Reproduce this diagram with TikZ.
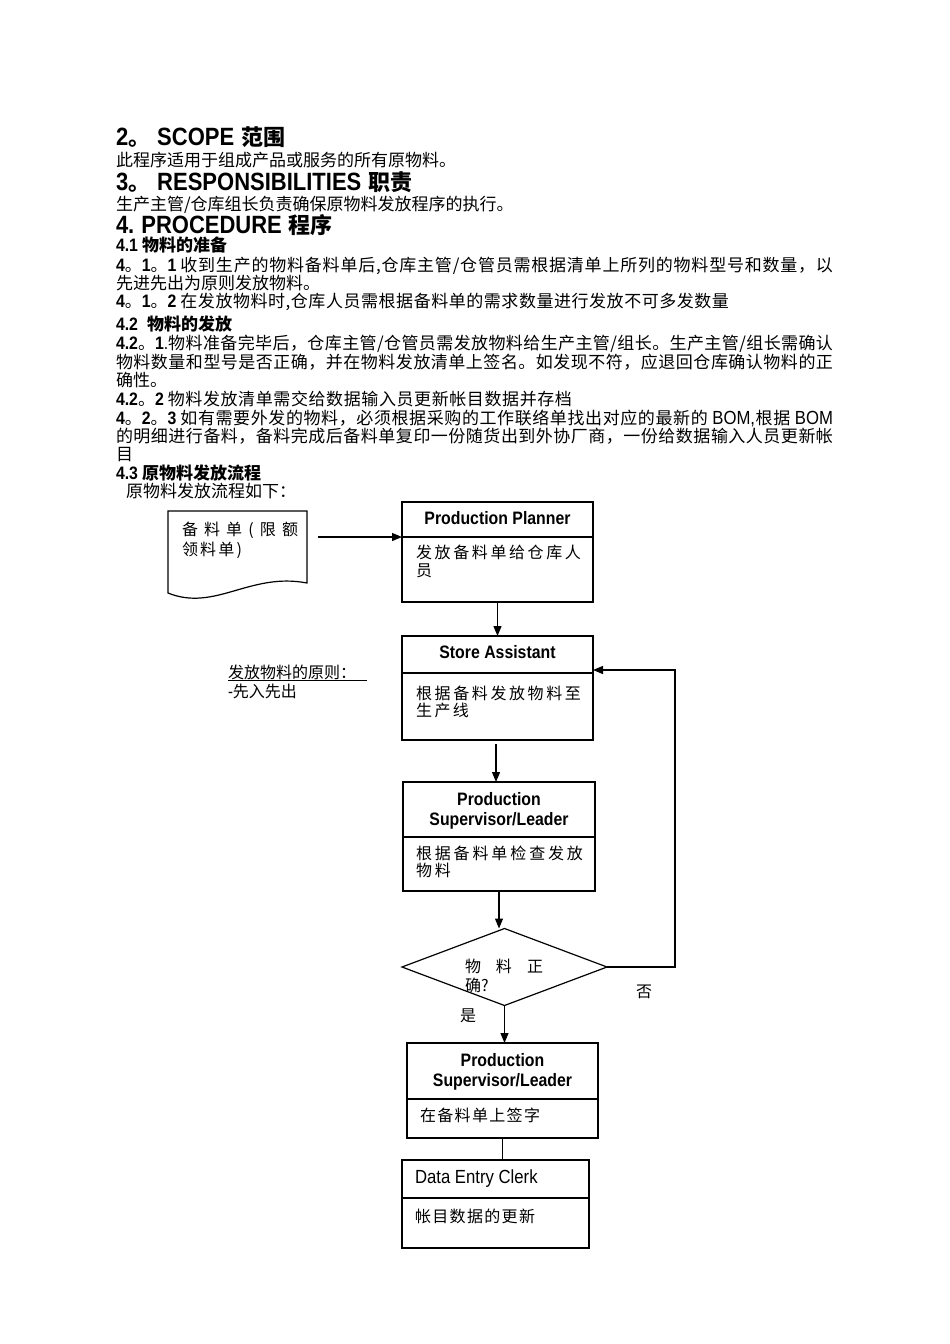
\documentclass[tikz,border=0pt]{standalone}
\usepackage{fontspec}
\setmainfont{Liberation Sans}
\newfontfamily\latn{Liberation Sans}[FakeStretch=0.88]
\newfontfamily\cjkf{Noto Sans CJK SC}
\usetikzlibrary{arrows.meta,shapes.geometric}
\newcommand\fs[1]{\fontsize{#1}{#1}\selectfont}
\newcommand\La[2]{{\latn\fs{#1}#2}}
\newcommand\Lb[2]{{\latn\bfseries\fs{#1}#2}}
\newcommand\Cj[2]{{\cjkf\fs{#1}#2}}
\newcommand\Cb[2]{{\cjkf\bfseries\fs{#1}#2}}
\def\gapend{\relax}
\def\gapit#1{#1\gapnext}
\def\gapnext#1{\ifx#1\gapend\else\hfil#1\expandafter\gapnext\fi}
\newcommand\spr[3]{{\cjkf\fs{#1}\hbox to #2pt{\gapit #3\gapend}}}
\begin{document}
\begin{tikzpicture}[x=1pt,y=-1pt,
  tx/.style={inner sep=0pt,outer sep=0pt,anchor=base west},
  ln/.style={line width=1.2pt},
  arr/.style={line width=1.2pt,-{Triangle[length=10pt,width=8pt]}},
  box/.style={draw,line width=1.2pt,inner sep=0pt,outer sep=0pt,anchor=north west},
  dia/.style={draw,shape=diamond,line width=1.2pt,inner sep=0pt,outer sep=0pt,minimum width=205pt,minimum height=77pt}]
\fill[white] (0,0) rectangle (950,1344);
\useasboundingbox (0,0) rectangle (950,1344);

% ---- text section ----
\node[tx] (h2) at (116,145) {\Lb{25}{2}\Cb{22}{。}\hspace{7pt}\Lb{25}{SCOPE}\hspace{7pt}\Cb{22}{范围}};
\node[tx] (p2) at (116,166) {\Cj{17}{此程序适用于组成产品或服务的所有原物料。}};
\node[tx] (h3) at (116,190) {\Lb{25}{3}\Cb{22}{。}\hspace{7pt}\Lb{25}{RESPONSIBILITIES}\hspace{7pt}\Cb{22}{职责}};
\node[tx] (p3) at (116,210) {\Cj{17}{生产主管/仓库组长负责确保原物料发放程序的执行。}};
\node[tx] (h4) at (116,233) {\Lb{25}{4.}\hspace{7pt}\Lb{25}{PROCEDURE}\hspace{7pt}\Cb{22}{程序}};
\node[tx] (s41) at (116,251) {\Lb{18}{4.1}\hspace{4pt}\Cb{17}{物料的准备}};
\node[tx] (p411a) at (116,271) {\hbox to 717pt{\Lb{18}{4}\Cj{17}{。}\Lb{18}{1}\Cj{17}{。}\Lb{18}{1}\hspace{4pt}{\cjkf\fs{17}\gapit 收到生产的物料备料单后,仓库主管/仓管员需根据清单上所列的物料型号和数量，以\gapend}}};
\node[tx] (p411b) at (116,289) {\Cj{17}{先进先出为原则发放物料。}};
\node[tx] (p412) at (116,307) {\hbox to 613pt{\Lb{18}{4}\Cj{17}{。}\Lb{18}{1}\Cj{17}{。}\Lb{18}{2}\hspace{4pt}{\cjkf\fs{17}\gapit 在发放物料时,仓库人员需根据备料单的需求数量进行发放不可多发数量\gapend}}};
\node[tx] (s42) at (116,330) {\Lb{18}{4.2}\hspace{9pt}\Cb{17}{物料的发放}};
\node[tx] (p421a) at (116,349) {\hbox to 717pt{\Lb{18}{4.2}\Cj{17}{。}\Lb{18}{1}\La{18}{.}{\cjkf\fs{17}\gapit 物料准备完毕后，仓库主管/仓管员需发放物料给生产主管/组长。生产主管/组长需确认\gapend}}};
\node[tx] (p421b) at (116,368) {\spr{17}{717}{物料数量和型号是否正确，并在物料发放清单上签名。如发现不符，应退回仓库确认物料的正}};
\node[tx] (p421c) at (116,386) {\Cj{17}{确性。}};
\node[tx] (p422) at (116,405) {\hbox to 456pt{\Lb{18}{4.2}\Cj{17}{。}\Lb{18}{2}\hspace{4pt}{\cjkf\fs{17}\gapit 物料发放清单需交给数据输入员更新帐目数据并存档\gapend}}};
\node[tx] (p423a) at (116,424) {\hbox to 717pt{\Lb{18}{4}\Cj{17}{。}\Lb{18}{2}\Cj{17}{。}\Lb{18}{3}\hspace{4pt}{\cjkf\fs{17}\gapit 如有需要外发的物料，必须根据采购的工作联络单找出对应的最新的\gapend}\hfil\hspace{4pt}\La{19}{BOM,}\hfil{\cjkf\fs{17}\gapit 根据\gapend}\hfil\hspace{4pt}\La{19}{BOM}}};
\node[tx] (p423b) at (116,442) {\spr{17}{717}{的明细进行备料，备料完成后备料单复印一份随货出到外协厂商，一份给数据输入人员更新帐}};
\node[tx] (p423c) at (116,460) {\Cj{17}{目}};
\node[tx] (s43) at (116,479) {\Lb{18}{4.3}\hspace{4pt}\Cb{17}{原物料发放流程}};
\node[tx] (p43) at (126,497) {\Cj{17}{原物料发放流程如下：}};

% ---- flowchart ----
\node[inner sep=0pt,outer sep=0pt,minimum width=139pt,minimum height=82pt,anchor=north west] (doc) at (168,511) {};
\draw[ln] (168,593) -- (168,511) -- (307,511) -- (307,583) .. controls (250,572) and (215,612) .. (168,593) -- cycle;
\node[tx] (dt1) at (182,535) {\spr{16}{116}{备料单(限额}};
\node[tx] (dt2) at (182,555) {\spr{16}{60}{领料单)}};

\node[box,minimum width=191pt,minimum height=100pt] (pp) at (402,502) {};
\draw[ln] ([yshift=-35pt]pp.north west) -- ([yshift=-35pt]pp.north east);
\node[tx,anchor=base] (ppt) at (497.5,524.5) {\Lb{18}{Production Planner}};
\node[tx] (ppb1) at (416,558) {\spr{16}{165}{发放备料单给仓库人}};
\node[tx] (ppb2) at (416,576) {\Cj{16}{员}};

\node[box,minimum width=191pt,minimum height=104pt] (sa) at (402,636) {};
\draw[ln] ([yshift=-37pt]sa.north west) -- ([yshift=-37pt]sa.north east);
\node[tx,anchor=base] (sat) at (497.5,658) {\Lb{18}{Store Assistant}};
\node[tx] (sab1) at (416,699) {\spr{16}{165}{根据备料发放物料至}};
\node[tx] (sab2) at (416,716) {\spr{16}{53}{生产线}};

\node[box,minimum width=192pt,minimum height=109pt] (ps1) at (403,782) {};
\draw[ln] ([yshift=-55pt]ps1.north west) -- ([yshift=-55pt]ps1.north east);
\node[tx,anchor=base] (ps1t1) at (499,805) {\Lb{18}{Production}};
\node[tx,anchor=base] (ps1t2) at (499,825) {\Lb{18}{Supervisor/Leader}};
\node[tx] (ps1b1) at (416,859) {\spr{16}{167}{根据备料单检查发放}};
\node[tx] (ps1b2) at (416,876) {\spr{16}{35}{物料}};

\node[dia] (dm) at (504.5,967) {};
\node[tx] (dmt1) at (465,972) {\spr{16}{78}{物料正}};
\node[tx] (dmt2) at (465,991) {\Cj{16}{确?}};
\node[tx] (no) at (636,997) {\Cj{16}{否}};
\node[tx] (yes) at (460,1021) {\Cj{16}{是}};

\node[box,minimum width=191pt,minimum height=95pt] (ps2) at (407,1043) {};
\draw[ln] ([yshift=-56pt]ps2.north west) -- ([yshift=-56pt]ps2.north east);
\node[tx,anchor=base] (ps2t1) at (502.5,1066) {\Lb{18}{Production}};
\node[tx,anchor=base] (ps2t2) at (502.5,1086) {\Lb{18}{Supervisor/Leader}};
\node[tx] (ps2b) at (420,1121) {\spr{16}{120}{在备料单上签字}};

\node[box,minimum width=187pt,minimum height=88pt] (dec) at (402,1160) {};
\draw[ln] ([yshift=-38pt]dec.north west) -- ([yshift=-38pt]dec.north east);
\node[tx] (dect) at (415,1183) {\La{19}{Data Entry Clerk}};
\node[tx] (decb) at (415,1222) {\spr{16}{120}{帐目数据的更新}};

\node[tx] (pr) at (228,678) {\Cj{16}{发放物料的原则：}};
\draw[line width=0.8pt] ([yshift=-2.5pt]pr.base west) -- ++(139,0);
\node[tx] (pr2) at (228,697) {\La{17}{-}\Cj{16}{先入先出}};

% ---- connectors ----
\coordinate (docout) at (318,537);
\draw[arr] (docout) -- (docout -| pp.west);
\draw[arr] (pp.south) -- (sa.north);
\draw[arr] ([xshift=-1.5pt,yshift=-4pt]sa.south) -- ([xshift=-1.5pt]sa.south |- ps1.north);
\draw[arr] (ps1.south) -- (ps1.south |- dm.north);
\draw[arr] (dm.south) -- (dm.south |- ps2.north);
\draw[ln] (ps2.south) -- (ps2.south |- dec.north);
\coordinate (fb) at (675,670);
\draw[arr] (dm.east) -| (fb) -- (sa.east |- fb);
\end{tikzpicture}
\end{document}
